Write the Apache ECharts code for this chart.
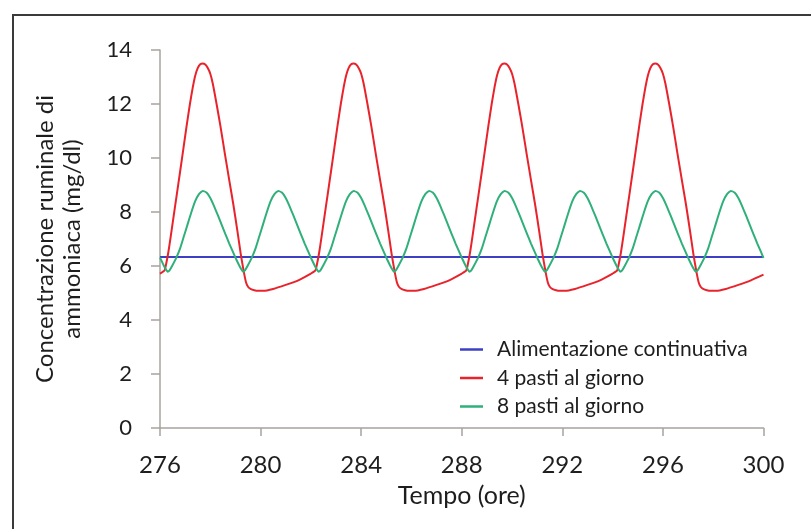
<!DOCTYPE html>
<html>
<head>
<meta charset="utf-8">
<script src="https://cdn.jsdelivr.net/npm/echarts@6/dist/echarts.min.js"></script>
<style>
html,body{margin:0;padding:0;background:#fff;}
#chart{width:811px;height:529px;}
</style>
</head>
<body>
<div id="chart"></div>
<script>
// Tick settings
const xMin = 276, xMax = 300, xStep = 4;
const yMin = 0, yMax = 14, yStep = 2;

// Series names
const seriesNames = ['Alimentazione continuativa', '4 pasti al giorno', '8 pasti al giorno'];

// Continuous feeding (constant)
const blueHours = [276, 300];
const blueValues = [6.33, 6.33];

// 4 meals per day (hours)
const redHours = [
  276,
  276.18, 276.25, 276.33, 276.42, 276.52, 276.66, 276.8, 276.93, 277.06, 277.19, 277.3, 277.4, 277.5, 277.6, 277.7, 277.8, 277.9, 278.0, 278.1, 278.25, 278.4, 278.59, 278.75, 278.92, 279.07, 279.21, 279.33, 279.42, 279.5, 279.6, 279.75, 279.9, 280.1, 280.5, 281.0, 281.5, 282.0,
  282.18, 282.25, 282.33, 282.42, 282.52, 282.66, 282.8, 282.93, 283.06, 283.19, 283.3, 283.4, 283.5, 283.6, 283.7, 283.8, 283.9, 284.0, 284.1, 284.25, 284.4, 284.59, 284.75, 284.92, 285.07, 285.21, 285.33, 285.42, 285.5, 285.6, 285.75, 285.9, 286.1, 286.5, 287.0, 287.5, 288.0,
  288.18, 288.25, 288.33, 288.42, 288.52, 288.66, 288.8, 288.93, 289.06, 289.19, 289.3, 289.4, 289.5, 289.6, 289.7, 289.8, 289.9, 290.0, 290.1, 290.25, 290.4, 290.59, 290.75, 290.92, 291.07, 291.21, 291.33, 291.42, 291.5, 291.6, 291.75, 291.9, 292.1, 292.5, 293.0, 293.5, 294.0,
  294.18, 294.25, 294.33, 294.42, 294.52, 294.66, 294.8, 294.93, 295.06, 295.19, 295.3, 295.4, 295.5, 295.6, 295.7, 295.8, 295.9, 296.0, 296.1, 296.25, 296.4, 296.59, 296.75, 296.92, 297.07, 297.21, 297.33, 297.42, 297.5, 297.6, 297.75, 297.9, 298.1, 298.5, 299.0, 299.5, 300.0
];
const redValues = [
  5.72,
  5.83, 6.1, 6.5, 7.05, 7.7, 8.6, 9.5, 10.35, 11.2, 12.0, 12.6, 13.05, 13.33, 13.47, 13.5, 13.46, 13.33, 13.12, 12.75, 12.0, 11.2, 10.1, 9.2, 8.26, 7.35, 6.45, 5.8, 5.4, 5.23, 5.15, 5.1, 5.08, 5.08, 5.15, 5.3, 5.47, 5.72,
  5.83, 6.1, 6.5, 7.05, 7.7, 8.6, 9.5, 10.35, 11.2, 12.0, 12.6, 13.05, 13.33, 13.47, 13.5, 13.46, 13.33, 13.12, 12.75, 12.0, 11.2, 10.1, 9.2, 8.26, 7.35, 6.45, 5.8, 5.4, 5.23, 5.15, 5.1, 5.08, 5.08, 5.15, 5.3, 5.47, 5.72,
  5.83, 6.1, 6.5, 7.05, 7.7, 8.6, 9.5, 10.35, 11.2, 12.0, 12.6, 13.05, 13.33, 13.47, 13.5, 13.46, 13.33, 13.12, 12.75, 12.0, 11.2, 10.1, 9.2, 8.26, 7.35, 6.45, 5.8, 5.4, 5.23, 5.15, 5.1, 5.08, 5.08, 5.15, 5.3, 5.47, 5.72,
  5.83, 6.1, 6.5, 7.05, 7.7, 8.6, 9.5, 10.35, 11.2, 12.0, 12.6, 13.05, 13.33, 13.47, 13.5, 13.46, 13.33, 13.12, 12.75, 12.0, 11.2, 10.1, 9.2, 8.26, 7.35, 6.45, 5.8, 5.4, 5.23, 5.15, 5.1, 5.08, 5.08, 5.15, 5.3, 5.47, 5.68
];

// 8 meals per day (hours)
const greenHours = [
  276, 276.15, 276.24,
  276.3, 276.38, 276.48, 276.66, 276.8, 276.95, 277.1, 277.25, 277.4, 277.55, 277.7, 277.85, 278.0, 278.15, 278.3, 278.45, 278.6, 278.75, 278.9, 279.03, 279.15, 279.24,
  279.3, 279.38, 279.48, 279.66, 279.8, 279.95, 280.1, 280.25, 280.4, 280.55, 280.7, 280.85, 281.0, 281.15, 281.3, 281.45, 281.6, 281.75, 281.9, 282.03, 282.15, 282.24,
  282.3, 282.38, 282.48, 282.66, 282.8, 282.95, 283.1, 283.25, 283.4, 283.55, 283.7, 283.85, 284.0, 284.15, 284.3, 284.45, 284.6, 284.75, 284.9, 285.03, 285.15, 285.24,
  285.3, 285.38, 285.48, 285.66, 285.8, 285.95, 286.1, 286.25, 286.4, 286.55, 286.7, 286.85, 287.0, 287.15, 287.3, 287.45, 287.6, 287.75, 287.9, 288.03, 288.15, 288.24,
  288.3, 288.38, 288.48, 288.66, 288.8, 288.95, 289.1, 289.25, 289.4, 289.55, 289.7, 289.85, 290.0, 290.15, 290.3, 290.45, 290.6, 290.75, 290.9, 291.03, 291.15, 291.24,
  291.3, 291.38, 291.48, 291.66, 291.8, 291.95, 292.1, 292.25, 292.4, 292.55, 292.7, 292.85, 293.0, 293.15, 293.3, 293.45, 293.6, 293.75, 293.9, 294.03, 294.15, 294.24,
  294.3, 294.38, 294.48, 294.66, 294.8, 294.95, 295.1, 295.25, 295.4, 295.55, 295.7, 295.85, 296.0, 296.15, 296.3, 296.45, 296.6, 296.75, 296.9, 297.03, 297.15, 297.24,
  297.3, 297.38, 297.48, 297.66, 297.8, 297.95, 298.1, 298.25, 298.4, 298.55, 298.7, 298.85, 299.0, 299.15, 299.3, 299.45, 299.6, 299.75, 299.9, 300
];
const greenValues = [
  6.31, 6.02, 5.87,
  5.79, 5.84, 6.0, 6.33, 6.65, 7.1, 7.55, 8.0, 8.4, 8.66, 8.78, 8.72, 8.52, 8.22, 7.88, 7.53, 7.18, 6.84, 6.52, 6.25, 6.02, 5.87,
  5.79, 5.84, 6.0, 6.33, 6.65, 7.1, 7.55, 8.0, 8.4, 8.66, 8.78, 8.72, 8.52, 8.22, 7.88, 7.53, 7.18, 6.84, 6.52, 6.25, 6.02, 5.87,
  5.79, 5.84, 6.0, 6.33, 6.65, 7.1, 7.55, 8.0, 8.4, 8.66, 8.78, 8.72, 8.52, 8.22, 7.88, 7.53, 7.18, 6.84, 6.52, 6.25, 6.02, 5.87,
  5.79, 5.84, 6.0, 6.33, 6.65, 7.1, 7.55, 8.0, 8.4, 8.66, 8.78, 8.72, 8.52, 8.22, 7.88, 7.53, 7.18, 6.84, 6.52, 6.25, 6.02, 5.87,
  5.79, 5.84, 6.0, 6.33, 6.65, 7.1, 7.55, 8.0, 8.4, 8.66, 8.78, 8.72, 8.52, 8.22, 7.88, 7.53, 7.18, 6.84, 6.52, 6.25, 6.02, 5.87,
  5.79, 5.84, 6.0, 6.33, 6.65, 7.1, 7.55, 8.0, 8.4, 8.66, 8.78, 8.72, 8.52, 8.22, 7.88, 7.53, 7.18, 6.84, 6.52, 6.25, 6.02, 5.87,
  5.79, 5.84, 6.0, 6.33, 6.65, 7.1, 7.55, 8.0, 8.4, 8.66, 8.78, 8.72, 8.52, 8.22, 7.88, 7.53, 7.18, 6.84, 6.52, 6.25, 6.02, 5.87,
  5.79, 5.84, 6.0, 6.33, 6.65, 7.1, 7.55, 8.0, 8.4, 8.66, 8.78, 8.72, 8.52, 8.22, 7.88, 7.53, 7.18, 6.84, 6.52, 6.3
];

const zip = (xs, ys) => xs.map((x, i) => [x, ys[i]]);

const FONT = 'Lato';
const axisColor = '#a9a39e';
const textColor = '#1e1e1e';

const chart = echarts.init(document.getElementById('chart'), null, {renderer: 'canvas'});
chart.setOption({
  backgroundColor: '#ffffff',
  animation: false,
  textStyle: {fontFamily: FONT},
  graphic: [{
    type: 'rect',
    shape: {x: 13, y: 15, width: 900, height: 700},
    style: {fill: 'none', stroke: '#3a3a3a', lineWidth: 2},
    silent: true
  }],
  grid: {left: 160, right: 47.5, top: 50, bottom: 101, containLabel: false, outerBoundsMode: 'none'},
  legend: {
    orient: 'vertical',
    left: 460,
    top: 339,
    padding: 0,
    itemGap: 7.5,
    itemWidth: 23,
    itemHeight: 2.5,
    icon: 'rect',
    data: seriesNames,
    textStyle: {fontFamily: FONT, fontSize: 21, lineHeight: 21, color: textColor, padding: [0, 0, 0, 9]}
  },
  xAxis: {
    type: 'value',
    min: xMin, max: xMax, interval: xStep,
    name: 'Tempo (ore)',
    nameLocation: 'middle',
    nameGap: 55,
    nameTextStyle: {fontFamily: FONT, fontSize: 25, color: textColor},
    axisLine: {show: true, onZero: false, lineStyle: {color: axisColor, width: 1.5}},
    axisTick: {show: true, inside: false, length: 8, lineStyle: {color: axisColor, width: 1.5}},
    axisLabel: {fontFamily: FONT, fontSize: 24, color: textColor, margin: 25},
    splitLine: {show: false}
  },
  yAxis: {
    type: 'value',
    min: yMin, max: yMax, interval: yStep,
    name: 'Concentrazione ruminale di\nammoniaca (mg/dl)',
    nameLocation: 'middle',
    nameGap: 74,
    nameTextStyle: {fontFamily: FONT, fontSize: 24, lineHeight: 27, color: textColor},
    axisLine: {show: true, lineStyle: {color: axisColor, width: 1.5}},
    axisTick: {show: true, inside: false, length: 9, lineStyle: {color: axisColor, width: 1.5}},
    axisLabel: {fontFamily: FONT, fontSize: 22, color: textColor, margin: 28},
    splitLine: {show: false}
  },
  series: [
    {
      name: seriesNames[0], type: 'line', data: zip(blueHours, blueValues),
      showSymbol: false, symbol: 'none', lineStyle: {color: '#3d40c4', width: 2}, itemStyle: {color: '#3d40c4'}, z: 2
    },
    {
      name: seriesNames[1], type: 'line', data: zip(redHours, redValues),
      showSymbol: false, symbol: 'none', smooth: 0.15, lineStyle: {color: '#e8232b', width: 2}, itemStyle: {color: '#e8232b'}, z: 3
    },
    {
      name: seriesNames[2], type: 'line', data: zip(greenHours, greenValues),
      showSymbol: false, symbol: 'none', smooth: 0.15, lineStyle: {color: '#2fb07a', width: 2}, itemStyle: {color: '#2fb07a'}, z: 4
    }
  ]
});
</script>
</body>
</html>
